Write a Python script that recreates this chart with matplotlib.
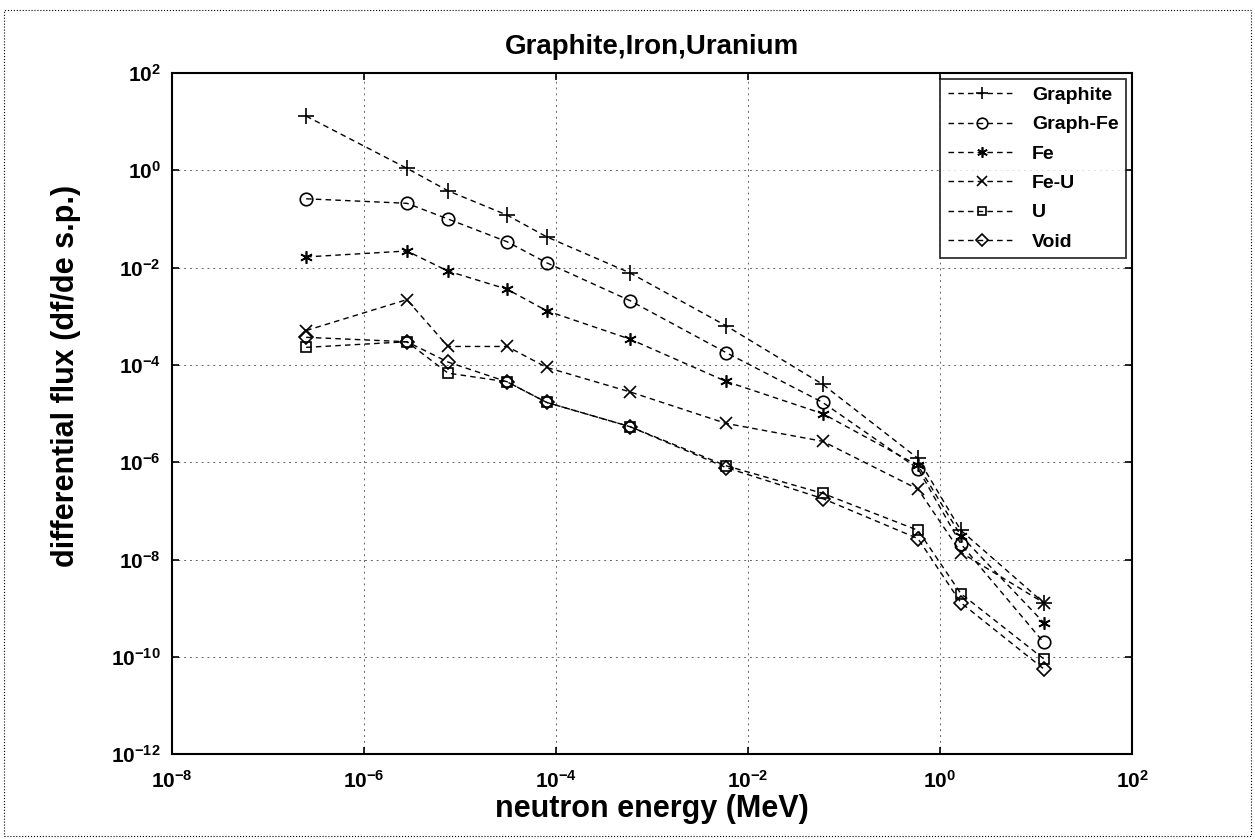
import matplotlib
matplotlib.use('Agg')
import matplotlib.pyplot as plt
import numpy as np

plt.rcParams['font.family'] = ['Liberation Sans', 'DejaVu Sans']
plt.rcParams['font.weight'] = 'bold'

# neutron energy groups (MeV)
energy = [2.5e-7, 2.8e-6, 7.5e-6, 3.1e-5, 8.0e-5, 5.9e-4, 5.9e-3, 0.06, 0.59, 1.65, 12.0]

# differential flux per configuration
graphite = [13, 1.1, 0.38, 0.12, 0.043, 7.8e-3, 6.4e-4, 4.0e-5, 1.2e-6, 4.0e-8, 1.3e-9]
graph_fe = [0.26, 0.21, 0.10, 0.034, 0.0126, 2.1e-3, 1.8e-4, 1.7e-5, 7.4e-7, 2.1e-8, 2.0e-10]
fe = [0.0166, 0.022, 8.5e-3, 3.6e-3, 1.3e-3, 3.4e-4, 4.6e-5, 1.0e-5, 8.6e-7, 3.1e-8, 5.1e-10]
fe_u = [5.1e-4, 2.2e-3, 2.4e-4, 2.4e-4, 8.9e-5, 2.8e-5, 6.3e-6, 2.7e-6, 2.8e-7, 1.4e-8, 1.3e-9]
uran = [2.3e-4, 3.0e-4, 6.8e-5, 4.5e-5, 1.7e-5, 5.4e-6, 8.5e-7, 2.3e-7, 4.0e-8, 2.0e-9, 9.2e-11]
void = [3.7e-4, 3.0e-4, 1.15e-4, 4.5e-5, 1.7e-5, 5.4e-6, 7.8e-7, 1.8e-7, 2.7e-8, 1.3e-9, 5.7e-11]

labels = ['Graphite', 'Graph-Fe', 'Fe', 'Fe-U', 'U', 'Void']
markers = ['+', 'o', (6, 2, 0), 'x', 's', 'D']
data = [graphite, graph_fe, fe, fe_u, uran, void]

fig = plt.figure(figsize=(12.55, 8.39), dpi=100)
ax = fig.add_axes([0.137, 0.101, 0.765, 0.812])

for name, vals, mk in zip(labels, data, markers):
    if mk in ('s', 'D'):
        ms = 7
    elif mk == '+':
        ms = 11
    else:
        ms = 9
    ax.plot(energy, vals, linestyle=(0, (4, 3)), color='k', linewidth=1.0,
            marker=mk, markersize=ms, markerfacecolor='none', markeredgecolor='k',
            markeredgewidth=1.2, label=name)

ax.set_xscale('log')
ax.set_yscale('log')
ax.set_xlim(1e-8, 1e2)
ax.set_ylim(1e-12, 1e2)
ax.set_xticks([10.0 ** k for k in range(-8, 3, 2)])
ax.set_yticks([10.0 ** k for k in range(-12, 3, 2)])
ax.minorticks_off()
ax.tick_params(direction='in', top=True, right=True, labelsize=15, length=5, width=1.2)
ax.tick_params(axis='x', pad=11)
ax.tick_params(axis='y', pad=8)
for lab in ax.get_xticklabels() + ax.get_yticklabels():
    lab.set_fontweight('bold')
for sp in ax.spines.values():
    sp.set_linewidth(1.5)

ax.grid(True, which='major', linestyle=(0, (2, 4)), color='k', linewidth=0.7, alpha=0.6)

ax.set_title('Graphite,Iron,Uranium', fontsize=20, fontweight='bold', pad=14)
ax.set_xlabel('neutron energy (MeV)', fontsize=22, fontweight='bold', labelpad=2)
ax.set_ylabel('differential flux (df/de s.p.)', fontsize=22, fontweight='bold')
ax.yaxis.set_label_coords(-0.095, 0.555)

leg = ax.legend(loc='upper right', fontsize=14, frameon=True, fancybox=False,
                edgecolor='k', borderaxespad=0.3, handlelength=3.5, labelspacing=0.6,
                markerscale=0.85)
leg.get_frame().set_linewidth(1.3)
for t in leg.get_texts():
    t.set_fontweight('bold')

# page border of the scanned figure
fig.patches.append(plt.Rectangle((0.003, 0.003), 0.994, 0.985, transform=fig.transFigure,
                                 fill=False, edgecolor='k', linewidth=0.8, linestyle=':'))

fig.savefig('out.png', dpi=100)
